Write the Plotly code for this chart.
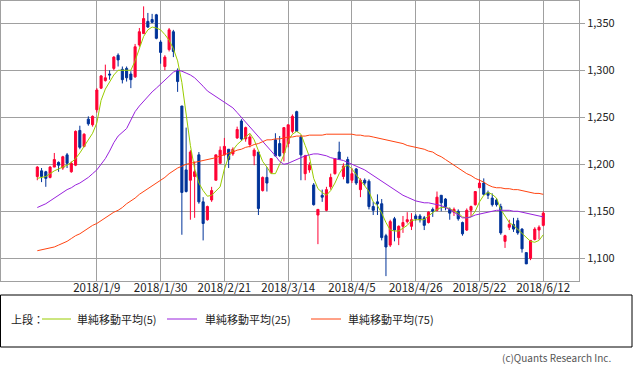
import plotly.graph_objects as go

dates = [
    "2017/12/14", "2017/12/15", "2017/12/18", "2017/12/19", "2017/12/20", "2017/12/21", "2017/12/22",
    "2017/12/25", "2017/12/26", "2017/12/27", "2017/12/28", "2017/12/29",
    "2018/1/4", "2018/1/5", "2018/1/9", "2018/1/10", "2018/1/11", "2018/1/12", "2018/1/15", "2018/1/16",
    "2018/1/17", "2018/1/18", "2018/1/19", "2018/1/22", "2018/1/23", "2018/1/24", "2018/1/25", "2018/1/26",
    "2018/1/29", "2018/1/30", "2018/1/31",
    "2018/2/1", "2018/2/2", "2018/2/5", "2018/2/6", "2018/2/7", "2018/2/8", "2018/2/9", "2018/2/13",
    "2018/2/14", "2018/2/15", "2018/2/16", "2018/2/19", "2018/2/20", "2018/2/21", "2018/2/22", "2018/2/23",
    "2018/2/26", "2018/2/27", "2018/2/28",
    "2018/3/1", "2018/3/2", "2018/3/5", "2018/3/6", "2018/3/7", "2018/3/8", "2018/3/9", "2018/3/12",
    "2018/3/13", "2018/3/14", "2018/3/15", "2018/3/16", "2018/3/19", "2018/3/20", "2018/3/22", "2018/3/23",
    "2018/3/26", "2018/3/27", "2018/3/28", "2018/3/29", "2018/3/30",
    "2018/4/2", "2018/4/3", "2018/4/4", "2018/4/5", "2018/4/6", "2018/4/9", "2018/4/10", "2018/4/11",
    "2018/4/12", "2018/4/13", "2018/4/16", "2018/4/17", "2018/4/18", "2018/4/19", "2018/4/20", "2018/4/23",
    "2018/4/24", "2018/4/25", "2018/4/26", "2018/4/27",
    "2018/5/1", "2018/5/2", "2018/5/7", "2018/5/8", "2018/5/9", "2018/5/10", "2018/5/11", "2018/5/14",
    "2018/5/15", "2018/5/16", "2018/5/17", "2018/5/18", "2018/5/21", "2018/5/22", "2018/5/23", "2018/5/24",
    "2018/5/25", "2018/5/28", "2018/5/29", "2018/5/30", "2018/5/31",
    "2018/6/1", "2018/6/4", "2018/6/5", "2018/6/6", "2018/6/7", "2018/6/8", "2018/6/11", "2018/6/12",
]

open_ = [1187, 1193, 1192, 1186, 1197, 1202, 1196, 1210, 1192, 1199,
         1236, 1219, 1248, 1242, 1258, 1281, 1289, 1296, 1302, 1316,
         1301, 1302, 1296, 1293, 1327, 1339, 1352, 1354, 1359, 1330,
         1304, 1322, 1341, 1300, 1262, 1194, 1183, 1187, 1210, 1160,
         1141, 1162, 1183, 1201, 1210, 1216, 1211, 1228, 1246, 1227,
         1221, 1209, 1213, 1172, 1186, 1191, 1226, 1222, 1212, 1222,
         1235, 1256, 1229, 1190, 1194, 1178, 1146, 1167, 1151, 1176,
         1190, 1213, 1187, 1205, 1183, 1195, 1173, 1183, 1182, 1155,
         1160, 1158, 1124, 1114, 1142, 1122, 1134, 1139, 1134, 1145,
         1145, 1143, 1138, 1152, 1151, 1167, 1163, 1152, 1149, 1150,
         1138, 1130, 1151, 1157, 1175, 1180, 1170, 1164, 1162, 1155,
         1118, 1133, 1136, 1140, 1131, 1106, 1100, 1120, 1130, 1135]
high = [1198, 1196, 1193, 1198, 1212, 1203, 1209, 1212, 1203, 1236,
        1241, 1233, 1251, 1252, 1281, 1295, 1306, 1300, 1315, 1318,
        1304, 1304, 1299, 1328, 1345, 1368, 1361, 1360, 1360, 1332,
        1316, 1345, 1343, 1302, 1262, 1239, 1215, 1203, 1213, 1165,
        1156, 1176, 1210, 1219, 1228, 1216, 1218, 1240, 1248, 1240,
        1232, 1217, 1213, 1187, 1197, 1206, 1233, 1230, 1239, 1242,
        1253, 1257, 1231, 1210, 1202, 1180, 1152, 1173, 1176, 1190,
        1206, 1224, 1201, 1208, 1196, 1196, 1185, 1185, 1184, 1160,
        1168, 1163, 1126, 1141, 1144, 1135, 1145, 1149, 1148, 1147,
        1147, 1145, 1150, 1154, 1171, 1167, 1164, 1154, 1154, 1152,
        1139, 1153, 1156, 1171, 1184, 1185, 1172, 1169, 1164, 1158,
        1125, 1141, 1143, 1143, 1132, 1106, 1119, 1133, 1135, 1150]
low = [1183, 1181, 1176, 1185, 1197, 1192, 1194, 1196, 1191, 1198,
       1216, 1218, 1241, 1240, 1255, 1280, 1288, 1290, 1300, 1304,
       1286, 1288, 1281, 1292, 1325, 1339, 1345, 1350, 1333, 1307,
       1300, 1320, 1314, 1277, 1125, 1170, 1141, 1143, 1158, 1119,
       1140, 1160, 1183, 1201, 1209, 1196, 1209, 1227, 1225, 1224,
       1218, 1199, 1146, 1171, 1171, 1190, 1208, 1208, 1203, 1218,
       1233, 1235, 1183, 1183, 1191, 1156, 1115, 1160, 1150, 1173,
       1189, 1205, 1184, 1180, 1180, 1178, 1165, 1177, 1152, 1146,
       1146, 1119, 1081, 1112, 1118, 1114, 1127, 1137, 1130, 1140,
       1138, 1130, 1137, 1144, 1150, 1150, 1151, 1141, 1145, 1140,
       1124, 1129, 1145, 1156, 1175, 1167, 1163, 1155, 1155, 1125,
       1111, 1130, 1128, 1125, 1106, 1094, 1098, 1119, 1120, 1134]
close = [1197, 1187, 1185, 1197, 1205, 1199, 1208, 1201, 1201, 1235,
         1218, 1232, 1243, 1251, 1279, 1294, 1292, 1295, 1314, 1311,
         1290, 1292, 1290, 1325, 1341, 1355, 1346, 1351, 1334, 1319,
         1314, 1343, 1320, 1288, 1170, 1171, 1213, 1192, 1160, 1137,
         1155, 1172, 1210, 1215, 1219, 1205, 1216, 1237, 1227, 1239,
         1229, 1215, 1153, 1186, 1180, 1206, 1209, 1209, 1239, 1242,
         1251, 1235, 1210, 1209, 1199, 1157, 1152, 1165, 1173, 1186,
         1206, 1205, 1198, 1180, 1190, 1180, 1183, 1180, 1155, 1151,
         1158, 1122, 1112, 1139, 1130, 1134, 1138, 1141, 1141, 1142,
         1141, 1135, 1149, 1150, 1165, 1159, 1155, 1148, 1152, 1142,
         1126, 1151, 1155, 1171, 1180, 1168, 1167, 1157, 1157, 1127,
         1124, 1136, 1131, 1127, 1110, 1094, 1119, 1131, 1133, 1148]

ma5 = [1185, 1186, 1187, 1190, 1193, 1195, 1197, 1199, 1202, 1206,
       1212, 1219, 1225, 1233, 1244, 1268, 1280, 1288, 1295, 1300,
       1300, 1300, 1300, 1310, 1322, 1336, 1343, 1346, 1345, 1343,
       1338, 1332, 1323, 1310, 1287, 1255, 1220, 1195, 1180, 1172,
       1166, 1167, 1172, 1176, 1195, 1208, 1215, 1221, 1225, 1229,
       1233, 1226, 1215, 1203, 1197, 1190, 1190, 1200, 1210, 1225,
       1232, 1235, 1232, 1220, 1208, 1185, 1174, 1170, 1167, 1172,
       1180, 1190, 1197, 1199, 1195, 1189, 1183, 1177, 1171, 1160,
       1156, 1148, 1138, 1130, 1129, 1129, 1132, 1135, 1140, 1141,
       1141, 1141, 1145, 1149, 1152, 1154, 1154, 1153, 1150, 1148,
       1144, 1143, 1144, 1150, 1160, 1167, 1170, 1168, 1164, 1152,
       1145, 1138, 1135, 1131, 1127, 1122, 1118, 1117, 1119, 1125]
ma25 = [1154, 1156, 1158, 1161, 1164, 1167, 1170, 1173, 1175, 1178,
        1180, 1183, 1186, 1190, 1194, 1200, 1206, 1214, 1223, 1230,
        1234, 1238, 1247, 1256, 1262, 1267, 1273, 1277, 1281, 1285,
        1290, 1294, 1298, 1300, 1299, 1297, 1295, 1292, 1288, 1283,
        1278, 1275, 1272, 1269, 1266, 1263, 1260, 1255, 1250, 1245,
        1240, 1235, 1229, 1224, 1219, 1214, 1209, 1203, 1200, 1201,
        1203, 1205, 1207, 1209, 1210, 1211, 1211, 1210, 1209, 1207,
        1206, 1205, 1204, 1202, 1200, 1198, 1196, 1194, 1191, 1188,
        1185, 1182, 1179, 1176, 1173, 1170, 1167, 1165, 1163, 1161,
        1160, 1159, 1159, 1158, 1157, 1156, 1154, 1152, 1149, 1146,
        1143, 1143, 1144, 1146, 1147, 1148, 1149, 1150, 1151, 1151,
        1151, 1151, 1150, 1150, 1149, 1148, 1147, 1146, 1145, 1144]
ma75 = [1108, 1109, 1110, 1111, 1112, 1114, 1116, 1118, 1121, 1124,
        1126, 1129, 1132, 1135, 1137, 1140, 1143, 1146, 1149, 1151,
        1154, 1158, 1161, 1164, 1168, 1171, 1174, 1177, 1180, 1183,
        1186, 1190, 1193, 1196, 1198, 1200, 1201, 1202, 1203, 1204,
        1205, 1206, 1207, 1209, 1210, 1212, 1213, 1215, 1216, 1218,
        1219, 1221, 1222, 1224, 1226, 1226, 1227, 1227, 1228, 1229,
        1229, 1230, 1230, 1230, 1231, 1231, 1231, 1231, 1232, 1232,
        1232, 1232, 1232, 1232, 1232, 1231, 1231, 1230, 1230, 1229,
        1228, 1227, 1226, 1225, 1224, 1223, 1222, 1220, 1219, 1218,
        1217, 1216, 1214, 1213, 1210, 1208, 1205, 1202, 1199, 1196,
        1193, 1190, 1188, 1185, 1183, 1181, 1178, 1176, 1175, 1175,
        1174, 1174, 1173, 1173, 1172, 1171, 1170, 1169, 1169, 1168]

tick_dates = ["2018/1/9", "2018/1/30", "2018/2/21", "2018/3/14",
              "2018/4/5", "2018/4/26", "2018/5/22", "2018/6/12"]
y_ticks = [1100, 1150, 1200, 1250, 1300, 1350]

legend_prefix = "上段："
ma_names = ["単純移動平均(5)", "単純移動平均(25)", "単純移動平均(75)"]
ma_colors = ["#99cc00", "#9922dd", "#ff4411"]
copyright_text = "(c)Quants Research Inc."

UP = "#ff0033"
DOWN = "#003399"
GRID = "#a0a0a0"

idx = list(range(len(dates)))

fig = go.Figure()
fig.add_trace(go.Candlestick(
    x=idx, open=open_, high=high, low=low, close=close,
    text=dates, hoverinfo="text+y",
    increasing=dict(line=dict(color=UP, width=1), fillcolor=UP),
    decreasing=dict(line=dict(color=DOWN, width=1), fillcolor=DOWN),
    showlegend=False,
))
for vals, name, col in zip([ma5, ma25, ma75], ma_names, ma_colors):
    fig.add_trace(go.Scatter(x=idx, y=vals, mode="lines", name=name,
                             line=dict(color=col, width=1), showlegend=False))

# plot area: x 1..579, y 1..281 in pixels
PW, PH = 578, 280
def px(x):
    return (x - 1) / PW
def py(y):
    return (281 - y) / PH

shapes = [dict(type="rect", xref="paper", yref="paper",
               x0=px(0.5), x1=px(632), y0=py(295), y1=py(347),
               line=dict(color="#000000", width=1), fillcolor="rgba(0,0,0,0)")]
annotations = [dict(xref="paper", yref="paper", x=px(9), y=py(319), text=legend_prefix,
                    showarrow=False, xanchor="left", yanchor="middle",
                    font=dict(size=11, color="#222"))]
line_x = [(42, 71), (167, 197), (311, 341)]
text_x = [75, 203, 346]
for (a, b), tx, name, col in zip(line_x, text_x, ma_names, ma_colors):
    shapes.append(dict(type="line", xref="paper", yref="paper",
                       x0=px(a), x1=px(b), y0=py(319), y1=py(319),
                       line=dict(color=col, width=1)))
    annotations.append(dict(xref="paper", yref="paper", x=px(tx), y=py(319), text=name,
                            showarrow=False, xanchor="left", yanchor="middle",
                            font=dict(size=11, color="#222")))
annotations.append(dict(xref="paper", yref="paper", x=px(613), y=py(357), text=copyright_text,
                        showarrow=False, xanchor="right", yanchor="middle",
                        font=dict(size=10, color="#555")))

fig.update_layout(
    width=633, height=370,
    margin=dict(l=1, r=54, t=1, b=89),
    paper_bgcolor="white", plot_bgcolor="white",
    font=dict(family="Noto Sans CJK JP, Noto Sans, sans-serif", size=11, color="#222"),
    showlegend=False,
    shapes=shapes, annotations=annotations,
    xaxis=dict(
        range=[-8.54, 127.4],
        tickvals=[dates.index(d) for d in tick_dates], ticktext=tick_dates,
        showgrid=True, gridcolor=GRID, gridwidth=1,
        showline=True, mirror=True, linecolor=GRID, linewidth=1,
        ticks="", zeroline=False, rangeslider=dict(visible=False),
        ticklabelstandoff=-4,
        tickfont=dict(size=11.5, color="#222"),
    ),
    yaxis=dict(
        range=[1075.8, 1373.7], side="right",
        tickvals=y_ticks, tickformat=",",
        showgrid=True, gridcolor=GRID, gridwidth=1,
        showline=True, mirror=True, linecolor=GRID, linewidth=1,
        ticks="outside", ticklen=5, tickcolor=GRID,
        zeroline=False, tickfont=dict(size=11, color="#222"),
    ),
)

fig.write_html(
    "out.html",
    config={"displayModeBar": False},
    post_script="document.body.style.margin='0';document.body.style.overflow='hidden';",
)
